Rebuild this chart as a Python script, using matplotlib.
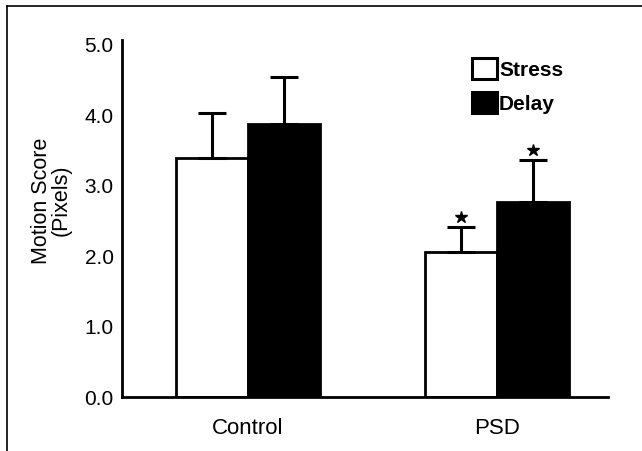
import matplotlib
matplotlib.use("Agg")
import matplotlib.pyplot as plt
from matplotlib.patches import Patch
from matplotlib.lines import Line2D
import numpy as np

plt.rcParams['font.family'] = ['Liberation Sans', 'DejaVu Sans']

groups = ["Control", "PSD"]
series = ["Stress", "Delay"]
stress_mean = [3.39, 2.06]
stress_err = [0.64, 0.35]
delay_mean = [3.88, 2.77]
delay_err = [0.67, 0.60]
significant_stress = [False, True]
significant_delay = [False, True]
yticks = [0.0, 1.0, 2.0, 3.0, 4.0, 5.0]
ylabel = "Motion Score\n(Pixels)"

fig = plt.figure(figsize=(6.42, 4.51), dpi=100)
ax = fig.add_axes([0.190, 0.1197, 0.757, 0.7916])

x = np.arange(len(groups))
w = 0.29
lw_edge = 2.0
ek = dict(ecolor='black', elinewidth=2.2, capsize=10, capthick=2.2)

ax.bar(x - w/2, stress_mean, w, color='white', edgecolor='black', linewidth=lw_edge,
       yerr=[np.zeros(len(groups)), stress_err], error_kw=ek, zorder=2)
ax.bar(x + w/2, delay_mean, w, color='black', edgecolor='black', linewidth=lw_edge,
       yerr=[np.zeros(len(groups)), delay_err], error_kw=ek, zorder=2)

for i in range(len(groups)):
    if significant_stress[i]:
        ax.plot(x[i] - w/2, stress_mean[i] + stress_err[i] + 0.14, marker='*',
                color='black', markersize=9, zorder=3)
    if significant_delay[i]:
        ax.plot(x[i] + w/2, delay_mean[i] + delay_err[i] + 0.14, marker='*',
                color='black', markersize=9, zorder=3)

ax.set_xlim(-0.506, 1.446)
ax.set_ylim(0, 5.07)
ax.set_yticks(yticks)
ax.set_yticklabels([f"{v:.1f}" for v in yticks], fontsize=15)
ax.set_xticks(x)
ax.set_xticklabels(groups, fontsize=16)
ax.tick_params(axis='y', length=0, pad=6)
ax.tick_params(axis='x', length=0, pad=15)
for s in ['top', 'right']:
    ax.spines[s].set_visible(False)
for s in ['left', 'bottom']:
    ax.spines[s].set_linewidth(2.0)

ax.set_ylabel(ylabel, fontsize=15.5, linespacing=0.92)
ax.yaxis.set_label_coords(-0.103, 0.55)

handles = [Patch(facecolor='white', edgecolor='black', linewidth=2.2),
           Patch(facecolor='black', edgecolor='black', linewidth=2.2)]
ax.legend(handles, series, loc='upper left', bbox_to_anchor=(0.72, 0.95),
          frameon=False, prop={'size': 15, 'weight': 'bold'},
          handlelength=1.2, handleheight=1.2,
          handletextpad=0.1, labelspacing=0.6, borderaxespad=0, borderpad=0)

# figure frame (left and top edges visible)
fig.add_artist(Line2D([7/642, 7/642], [0, 1 - 6/451], transform=fig.transFigure,
                      color='black', linewidth=1.2))
fig.add_artist(Line2D([7/642, 1], [1 - 6/451, 1 - 6/451], transform=fig.transFigure,
                      color='black', linewidth=1.2))

fig.savefig("out.png", dpi=100)
